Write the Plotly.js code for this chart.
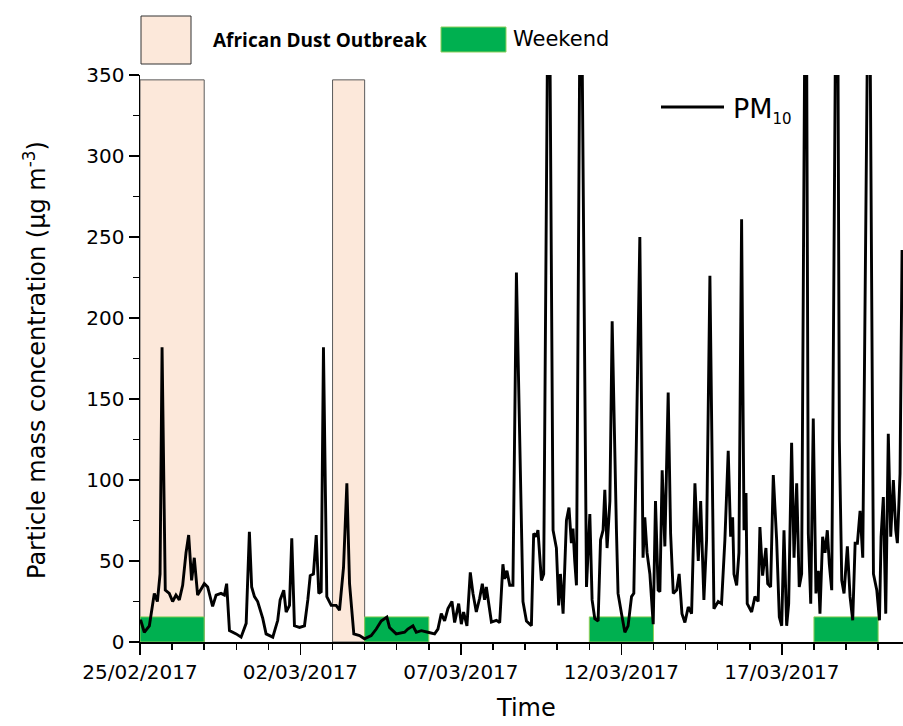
<!DOCTYPE html>
<html>
<head>
<meta charset="utf-8">
<script src="https://cdn.plot.ly/plotly-3.0.1.min.js"></script>
<style>
  html, body { margin: 0; padding: 0; background: #fff; }
  #chart { width: 903px; height: 726px; }
</style>
</head>
<body>
<div id="chart"></div>
<script>
// Hourly-ish PM10 record, hours counted from 25/02/2017 00:00
const hours = [0,0.7,3.2,7.0,10.7,13.0,15.0,16.5,18.9,21.9,24.4,26.9,29.4,31.9,34.4,36.4,38.6,40.6,43.1,48.1,
  50.6,54.3,56.9,60.6,63.1,64.8,66.9,71.9,75.6,79.4,81.8,83.5,85.6,88.0,91.8,94.3,99.3,103.0,104.8,107.5,
  109.3,111.8,113.5,115.5,119.3,123.0,125.5,127.3,129.7,131.8,133.7,135.5,137.2,139.7,143.0,146.7,149.2,152.2,154.7,156.7,
  159.9,164.2,167.9,172.9,176.7,180.4,184.6,186.6,
  191.6,197.9,200.3,204.1,206.6,210.4,215.3,220.3,222.8,225.3,227.8,230.3,233.3,235.3,238.3,240.3,242.0,244.5,247.0,249.0,
  251.5,254.0,256.0,257.7,259.0,260.7,262.8,266.5,269.0,271.4,272.7,274.4,276.5,278.9,281.5,286.4,289.0,292.7,294.4,296.4,
  297.6,300.2,301.9,305.7,308.9,311.4,313.1,314.4,316.4,318.9,320.8,322.6,323.8,325.1,326.4,329.6,333.9,336.4,338.1,340.1,
  342.6,344.4,346.3,347.6,349.3,351.4,353.1,356.3,357.5,360.1,362.6,365.0,367.6,369.3,373.8,
  376.2,377.5,379.2,381.3,383.8,385.5,387.5,388.8,390.5,392.5,395.0,396.8,398.8,401.3,403.2,405.3,407.5,410.0,412.5,415.0,
  417.5,419.3,421.7,423.7,426.2,429.2,432.4,434.9,437.4,439.9,441.7,443.2,444.2,446.2,447.9,449.9,451.7,453.2,454.1,457.4,
  459.9,462.3,463.6,465.6,468.1,469.4,471.6,473.6,476.1,478.1,479.9,481.6,483.6,485.1,487.3,489.1,491.1,493.0,494.8,498.0,
  499.8,501.6,503.5,505.5,507.3,508.5,510.5,512.3,514.0,515.5,517.3,521.3,523.0,524.8,526.5,529.0,531.0,533.0,534.8,536.5,
  538.5,540.5,545.2,548.5,551.0,553.0,554.2,555.9,557.7,559.6,561.4,563.4,565.2,566.4,568.4,569.9];

const pm10 = [13,13,6,10,30,25,42,182,32,30,25,29,26,35,55,66,38,52,29,36,
  34,22,29,30,29,36,7,5,3,11.5,68,34,28,25,14.6,5,3,13.4,26,32,
  18.5,22.6,64,10,9,10,26,41,42,66,30,31,182,28,22.6,22.6,19.6,46,98,36,
  5,4,2,4,8,13,15.4,9,
  5,6,8,10,6,7,6,5,8,17.5,13,20.6,25,12,23.7,11,18.5,10,43,30,
  18.5,27,36,26,34,23.7,12.3,13.4,12,48,39,44,35,35,228,25,13,10,67,65,
  69,38,42,480,69,58,22.6,42,17.5,75,83,61,70,50,35,470,34,79,26,14.4,
  13,63,69,94,58,87,198,69,30,17.5,6,10,28,30,250,
  52,77,55,42,11,87,32,31,106,59,154,67,30,32,42,17.5,12,21.6,17.5,98,
  50,87,26,63,226,20.6,25,23.7,63,118,65,77,42,35,55,261,69,92,23.7,18.5,
  28,25,71,41,58,36,34,103,63,15.4,10,69,10,23.7,123,52,98,34,42,500,
  67,23.7,138,30,44,17.5,65,55,69,48,32,520,124.5,38,30,59,28,13.4,61,61,
  81,52,480,42,32,13.4,65,89.5,17.5,128.6,65,100,69,61,104,242];

// Episodes (start / end dates)
const dustStart = ['2017-02-25', '2017-03-03'];
const dustEnd   = ['2017-02-27', '2017-03-04'];
const dustTop = 347;
const weekendStart = ['2017-02-25', '2017-03-04', '2017-03-11', '2017-03-18'];
const weekendEnd   = ['2017-02-27', '2017-03-06', '2017-03-13', '2017-03-20'];
const weekendTop = 15.5;

const xStart = '2017-02-25';
const xEndHours = 570.6;

const DAY = 86400000, HOUR = 3600000;
const t0 = Date.UTC(2017, 1, 25);
const xs = hours.map(h => t0 + h * HOUR);

const FONT = 'DejaVu Sans';
const PEACH = '#FCE8DA';
const GREEN = '#00B050';

const shapes = [];
dustStart.forEach((s, i) => shapes.push({
  type: 'rect', xref: 'x', yref: 'y', layer: 'below',
  x0: s, x1: dustEnd[i], y0: 0, y1: dustTop,
  fillcolor: PEACH, line: {color: '#5a5a5a', width: 1}
}));
weekendStart.forEach((s, i) => shapes.push({
  type: 'rect', xref: 'x', yref: 'y', layer: 'below',
  x0: s, x1: weekendEnd[i], y0: 0, y1: weekendTop,
  fillcolor: GREEN, line: {color: '#8FCF5A', width: 1}
}));

// legend keys drawn above the plot
const px = v => (v - 140) / 763;
const py = v => (642 - v) / 567;
shapes.push({type: 'rect', xref: 'paper', yref: 'paper',
  x0: px(141), x1: px(191), y0: py(64), y1: py(16),
  fillcolor: PEACH, line: {color: '#333', width: 1}});
shapes.push({type: 'rect', xref: 'paper', yref: 'paper',
  x0: px(441), x1: px(506), y0: py(52), y1: py(27),
  fillcolor: GREEN, line: {color: '#8FCF5A', width: 1}});
shapes.push({type: 'line', xref: 'paper', yref: 'paper',
  x0: px(661), x1: px(724), y0: py(107), y1: py(107),
  line: {color: '#000', width: 3}});

const annotations = [
  {xref: 'paper', yref: 'paper', x: px(211), y: py(40), xanchor: 'left', yanchor: 'middle',
   text: '<b>African Dust Outbreak</b>', showarrow: false,
   font: {family: 'Open Sans', size: 19, color: '#000'}},
  {xref: 'paper', yref: 'paper', x: px(511), y: py(39), xanchor: 'left', yanchor: 'middle',
   text: 'Weekend', showarrow: false,
   font: {family: FONT, size: 21, color: '#000'}},
  {xref: 'paper', yref: 'paper', x: px(731), y: py(110), xanchor: 'left', yanchor: 'middle',
   text: 'PM<sub><span style="font-size:15px">10</span></sub>', showarrow: false,
   font: {family: FONT, size: 27, color: '#000'}},
  {xref: 'paper', yref: 'paper', x: px(35), y: py(360), xanchor: 'center', yanchor: 'middle',
   textangle: -90, text: 'Particle mass concentration (µg m<sup>-3</sup>)', showarrow: false,
   font: {family: FONT, size: 24, color: '#000'}},
  {xref: 'paper', yref: 'paper', x: px(526), y: py(708), xanchor: 'center', yanchor: 'middle',
   text: 'Time', showarrow: false,
   font: {family: FONT, size: 24, color: '#000'}}
];

const trace = {
  x: xs, y: pm10, type: 'scatter', mode: 'lines',
  line: {color: '#000', width: 2.9, shape: 'linear'},
  hoverinfo: 'skip', showlegend: false
};

const layout = {
  width: 903, height: 726,
  margin: {l: 140, r: 0, t: 75, b: 84, pad: 0},
  paper_bgcolor: '#fff', plot_bgcolor: 'rgba(0,0,0,0)',
  showlegend: false,
  xaxis: {
    type: 'date', range: [t0, t0 + xEndHours * HOUR],
    tick0: xStart, dtick: 5 * DAY, tickformat: '%d/%m/%Y',
    ticks: 'outside', ticklen: 11, tickwidth: 1.5, tickcolor: '#000',
    minor: {dtick: DAY, tick0: xStart, ticks: 'outside', ticklen: 6, tickwidth: 1.5, tickcolor: '#000', showgrid: false},
    showline: true, linecolor: '#000', linewidth: 1.5,
    showgrid: false, zeroline: false, mirror: false,
    tickfont: {family: FONT, size: 20, color: '#000'}
  },
  yaxis: {
    range: [0, 350], dtick: 50, tick0: 0,
    ticks: 'outside', ticklen: 10, tickwidth: 1.5, tickcolor: '#000',
    minor: {dtick: 25, ticks: 'outside', ticklen: 6, tickwidth: 1.5, tickcolor: '#000', showgrid: false},
    showline: true, linecolor: '#000', linewidth: 1.5,
    showgrid: false, zeroline: false, mirror: false,
    tickfont: {family: FONT, size: 20, color: '#000'}
  },
  shapes: shapes,
  annotations: annotations
};

Plotly.newPlot('chart', [trace], layout, {displayModeBar: false, staticPlot: true});
</script>
</body>
</html>
